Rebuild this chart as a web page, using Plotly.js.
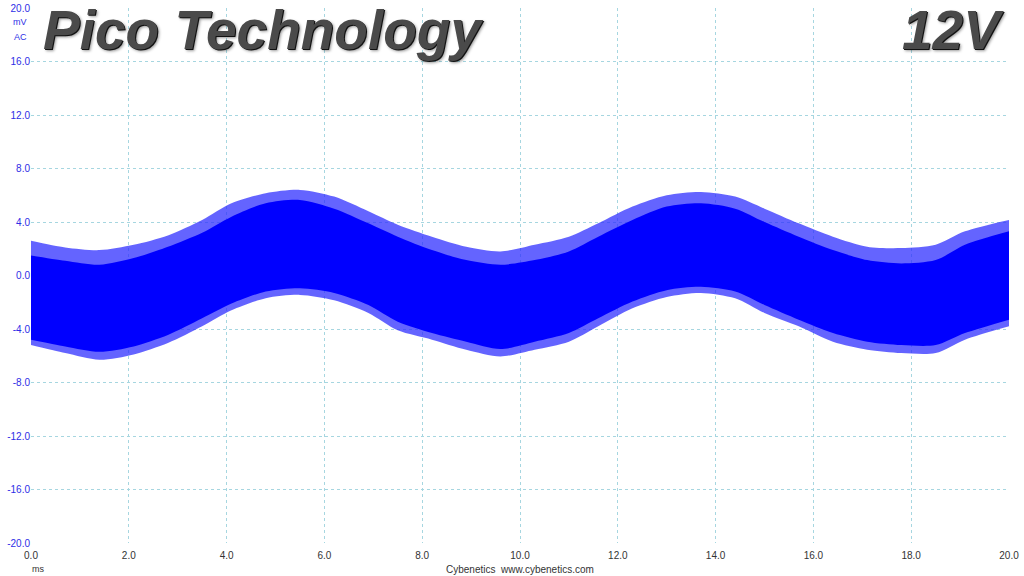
<!DOCTYPE html>
<html>
<head>
<meta charset="utf-8">
<script src="https://cdn.plot.ly/plotly-3.0.1.min.js"></script>
<style>
html,body{margin:0;padding:0;background:#fff;}
#chart{width:1024px;height:576px;}
</style>
</head>
<body>
<div id="chart"></div>
<script>
const timeMs = [0, 0.7, 1.4, 2.1, 2.8, 3.5, 4.1, 4.8, 5.5, 6.2, 6.9, 7.5, 8.2, 8.9, 9.6,
                10.3, 11.0, 11.6, 12.3, 13.0, 13.7, 14.4, 15.0, 15.7, 16.4, 17.1, 17.8, 18.5, 19.1, 20.0];
// Upper spike peaks (mV)
const upperPeak = [2.6, 2.1, 1.9, 2.3, 3.0, 4.15, 5.4, 6.15, 6.4, 5.9, 4.8, 3.8, 2.9, 2.15, 1.8,
                   2.3, 2.9, 3.9, 5.15, 6.0, 6.25, 5.9, 5.0, 3.9, 2.9, 2.15, 2.05, 2.3, 3.3, 4.15];
// Upper edge of the dense body (mV)
const upperBody = [1.5, 1.1, 0.8, 1.3, 2.15, 3.2, 4.4, 5.4, 5.65, 5.0, 3.9, 2.9, 1.9, 1.15, 0.8,
                   1.15, 1.8, 2.9, 4.15, 5.15, 5.4, 5.0, 4.0, 2.9, 1.9, 1.15, 0.9, 1.15, 2.3, 3.3];
// Lower edge of the dense body (mV)
const lowerBody = [-4.8, -5.3, -5.7, -5.3, -4.45, -3.2, -2.1, -1.2, -0.95, -1.3, -2.2, -3.45, -4.3, -4.95, -5.5,
                   -4.95, -4.3, -3.2, -1.95, -1.1, -0.85, -1.2, -2.2, -3.3, -4.3, -4.95, -5.2, -5.2, -4.3, -3.3];
// Lower spike minima (mV)
const lowerPeak = [-5.2, -5.8, -6.3, -5.9, -5.05, -3.8, -2.6, -1.7, -1.45, -1.85, -2.8, -4.1, -4.8, -5.55, -6.05,
                   -5.55, -4.95, -3.8, -2.45, -1.6, -1.3, -1.7, -2.8, -3.8, -4.95, -5.55, -5.8, -5.8, -4.8, -3.8];

const yTicks = [-20, -16, -12, -8, -4, 0, 4, 8, 12, 16, 20];
const yTickText = ['-20.0', '-16.0', '-12.0', '-8.0', '-4.0', '0.0', '4.0', '8.0', '12.0', '16.0', '20.0'];
const xTicks = [0, 2, 4, 6, 8, 10, 12, 14, 16, 18, 20];
const xTickText = ['0.0', '2.0', '4.0', '6.0', '8.0', '10.0', '12.0', '14.0', '16.0', '18.0', '20.0'];

const clear = {width: 0, color: 'rgba(0,0,0,0)', shape: 'spline', smoothing: 0.8};
const traces = [
  {x: timeMs, y: lowerPeak, mode: 'lines', line: clear, hoverinfo: 'skip', showlegend: false},
  {x: timeMs, y: upperPeak, mode: 'lines', fill: 'tonexty', fillcolor: 'rgba(40,40,255,0.72)',
   line: clear, showlegend: false},
  {x: timeMs, y: lowerBody, mode: 'lines', line: clear, hoverinfo: 'skip', showlegend: false},
  {x: timeMs, y: upperBody, mode: 'lines', fill: 'tonexty', fillcolor: '#0000ff',
   line: clear, showlegend: false}
];

const gridCol = '#a6d6e0';
const titleFont = {family: 'Liberation Sans, Arial, sans-serif', size: 55, color: '#4a4a4a',
                   weight: 'bold', style: 'italic',
                   shadow: '1px 1px 0px #111, 2px 2px 3px rgba(0,0,0,0.4)'};
const layout = {
  width: 1024, height: 576,
  margin: {l: 31, r: 15, t: 8, b: 33, pad: 0},
  paper_bgcolor: '#ffffff', plot_bgcolor: '#ffffff',
  showlegend: false,
  xaxis: {
    range: [0, 20], tickvals: xTicks, ticktext: xTickText,
    showgrid: true, gridcolor: gridCol, griddash: 'dot', gridwidth: 1,
    zeroline: false, showline: false, ticks: '', ticklabelstandoff: 5,
    tickfont: {family: 'Liberation Sans, Arial, sans-serif', size: 10, color: '#333333'},
    fixedrange: true
  },
  yaxis: {
    range: [-20, 20], tickvals: yTicks, ticktext: yTickText,
    showgrid: true, gridcolor: gridCol, griddash: 'dot', gridwidth: 1,
    zeroline: false, showline: false, ticks: '',
    tickfont: {family: 'Liberation Sans, Arial, sans-serif', size: 10, color: '#2e2ee6'},
    fixedrange: true
  },
  annotations: [
    {text: 'Pico Technology', xref: 'paper', yref: 'paper', x: 0.0105, y: 0.959,
     xanchor: 'left', yanchor: 'middle', showarrow: false, font: titleFont},
    {text: '12V', xref: 'paper', yref: 'paper', x: 0.997, y: 0.959,
     xanchor: 'right', yanchor: 'middle', showarrow: false, font: titleFont},
    {text: 'mV', xref: 'paper', yref: 'paper', x: -0.011, y: 0.974, xanchor: 'center', yanchor: 'middle',
     showarrow: false, font: {family: 'Liberation Sans, Arial, sans-serif', size: 9, color: '#2e2ee6'}},
    {text: 'AC', xref: 'paper', yref: 'paper', x: -0.011, y: 0.946, xanchor: 'center', yanchor: 'middle',
     showarrow: false, font: {family: 'Liberation Sans, Arial, sans-serif', size: 9, color: '#2e2ee6'}},
    {text: 'ms', xref: 'paper', yref: 'paper', x: 0.007, y: -0.049, xanchor: 'center', yanchor: 'middle',
     showarrow: false, font: {family: 'Liberation Sans, Arial, sans-serif', size: 9, color: '#333333'}},
    {text: 'Cybenetics&nbsp;&nbsp;www.cybenetics.com', xref: 'paper', yref: 'paper', x: 0.5, y: -0.049,
     xanchor: 'center', yanchor: 'middle', showarrow: false,
     font: {family: 'Liberation Sans, Arial, sans-serif', size: 10, color: '#333333'}}
  ]
};

Plotly.newPlot('chart', traces, layout, {displayModeBar: false, staticPlot: true});
</script>
</body>
</html>
